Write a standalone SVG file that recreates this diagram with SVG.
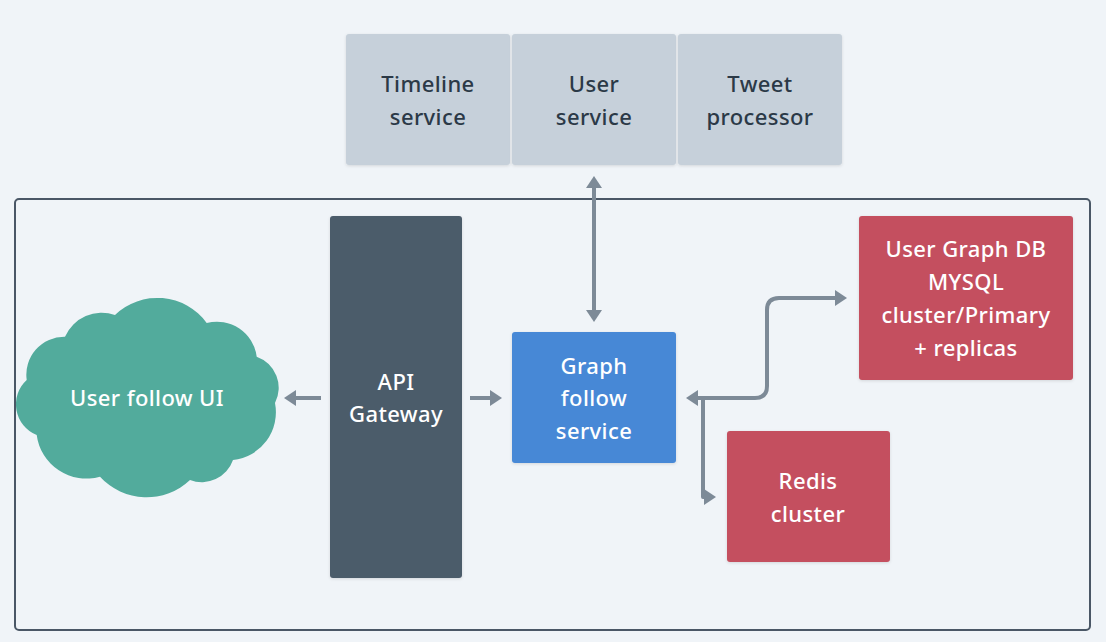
<svg xmlns="http://www.w3.org/2000/svg" width="1106" height="642" viewBox="0 0 1106 642">
<defs>
<marker id="ah" viewBox="0 0 12 16" refX="3" refY="8" markerWidth="12" markerHeight="16" markerUnits="userSpaceOnUse" orient="auto-start-reverse">
<path d="M0,0 L12,8 L0,16 z" fill="#7d8a97"/>
</marker>
<filter id="sh" x="-10%" y="-10%" width="120%" height="120%">
<feDropShadow dx="0" dy="1" stdDeviation="1.5" flood-color="#000" flood-opacity="0.12"/>
</filter>
</defs>
<style>
text{font-family:"Noto Sans","Open Sans",sans-serif;font-size:22px;font-weight:500;letter-spacing:0.4px;text-anchor:middle}
.dk{fill:#2b3947}
.wt{fill:#ffffff}
.conn{fill:none;stroke:#7d8a97;stroke-width:4;stroke-linejoin:round}
</style>
<rect width="1106" height="642" fill="#f0f4f8"/>
<rect id="container" x="15" y="199" width="1075" height="431" rx="4" fill="none" stroke="#4a5766" stroke-width="2"/>
<g id="timeline-service">
<rect x="346" y="34" width="164" height="131" rx="3" fill="#c6d0da" filter="url(#sh)"/>
<text class="dk" x="428" y="92">Timeline</text>
<text class="dk" x="428" y="125">service</text>
</g>
<g id="user-service">
<rect x="512" y="34" width="164" height="131" rx="3" fill="#c6d0da" filter="url(#sh)"/>
<text class="dk" x="594" y="92">User</text>
<text class="dk" x="594" y="125">service</text>
</g>
<g id="tweet-processor">
<rect x="678" y="34" width="164" height="131" rx="3" fill="#c6d0da" filter="url(#sh)"/>
<text class="dk" x="760" y="92">Tweet</text>
<text class="dk" x="760" y="125">processor</text>
</g>
<g id="user-follow-ui">
<path d="M26.7,380 A38,38 0 0 1 65,336.7 A40,40 0 0 1 115,315 A61,61 0 0 1 206.7,323 A40,40 0 0 1 256.7,356.7 A33,33 0 0 1 275,403 A48,48 0 0 1 233,460 A33,33 0 0 1 190,480 A63,63 0 0 1 100,476.7 A50,50 0 0 1 36.7,435 A33,33 0 0 1 26.7,380 Z" fill="#52ab9c"/>
<text class="wt" x="147" y="406">User follow UI</text>
</g>
<g id="api-gateway">
<rect x="330" y="216" width="132" height="362" rx="3" fill="#4b5b6a" filter="url(#sh)"/>
<text class="wt" x="396" y="390">API</text>
<text class="wt" x="396" y="422">Gateway</text>
</g>
<g id="graph-follow-service">
<rect x="512" y="332" width="164" height="131" rx="3" fill="#4688d6" filter="url(#sh)"/>
<text class="wt" x="594" y="374">Graph</text>
<text class="wt" x="594" y="406">follow</text>
<text class="wt" x="594" y="439">service</text>
</g>
<g id="user-graph-db">
<rect x="859" y="216" width="214" height="164" rx="3" fill="#c4505f" filter="url(#sh)"/>
<text class="wt" x="966" y="257">User Graph DB</text>
<text class="wt" x="966" y="290">MYSQL</text>
<text class="wt" x="966" y="323">cluster/Primary</text>
<text class="wt" x="966" y="356">+ replicas</text>
</g>
<g id="redis-cluster">
<rect x="727" y="431" width="163" height="131" rx="3" fill="#c4505f" filter="url(#sh)"/>
<text class="wt" x="808" y="489">Redis</text>
<text class="wt" x="808" y="522">cluster</text>
</g>
<g id="connectors">
<path class="conn" d="M321,398 H293" marker-end="url(#ah)"/>
<path class="conn" d="M470,398 H493" marker-end="url(#ah)"/>
<path class="conn" d="M594,185 V313" marker-start="url(#ah)" marker-end="url(#ah)"/>
<path class="conn" d="M695,398 H755 Q767,398 767,386 V310 Q767,298 779,298 H838" marker-start="url(#ah)" marker-end="url(#ah)"/>
<path class="conn" d="M703,398 V497 H707" marker-end="url(#ah)"/>
</g>
</svg>
